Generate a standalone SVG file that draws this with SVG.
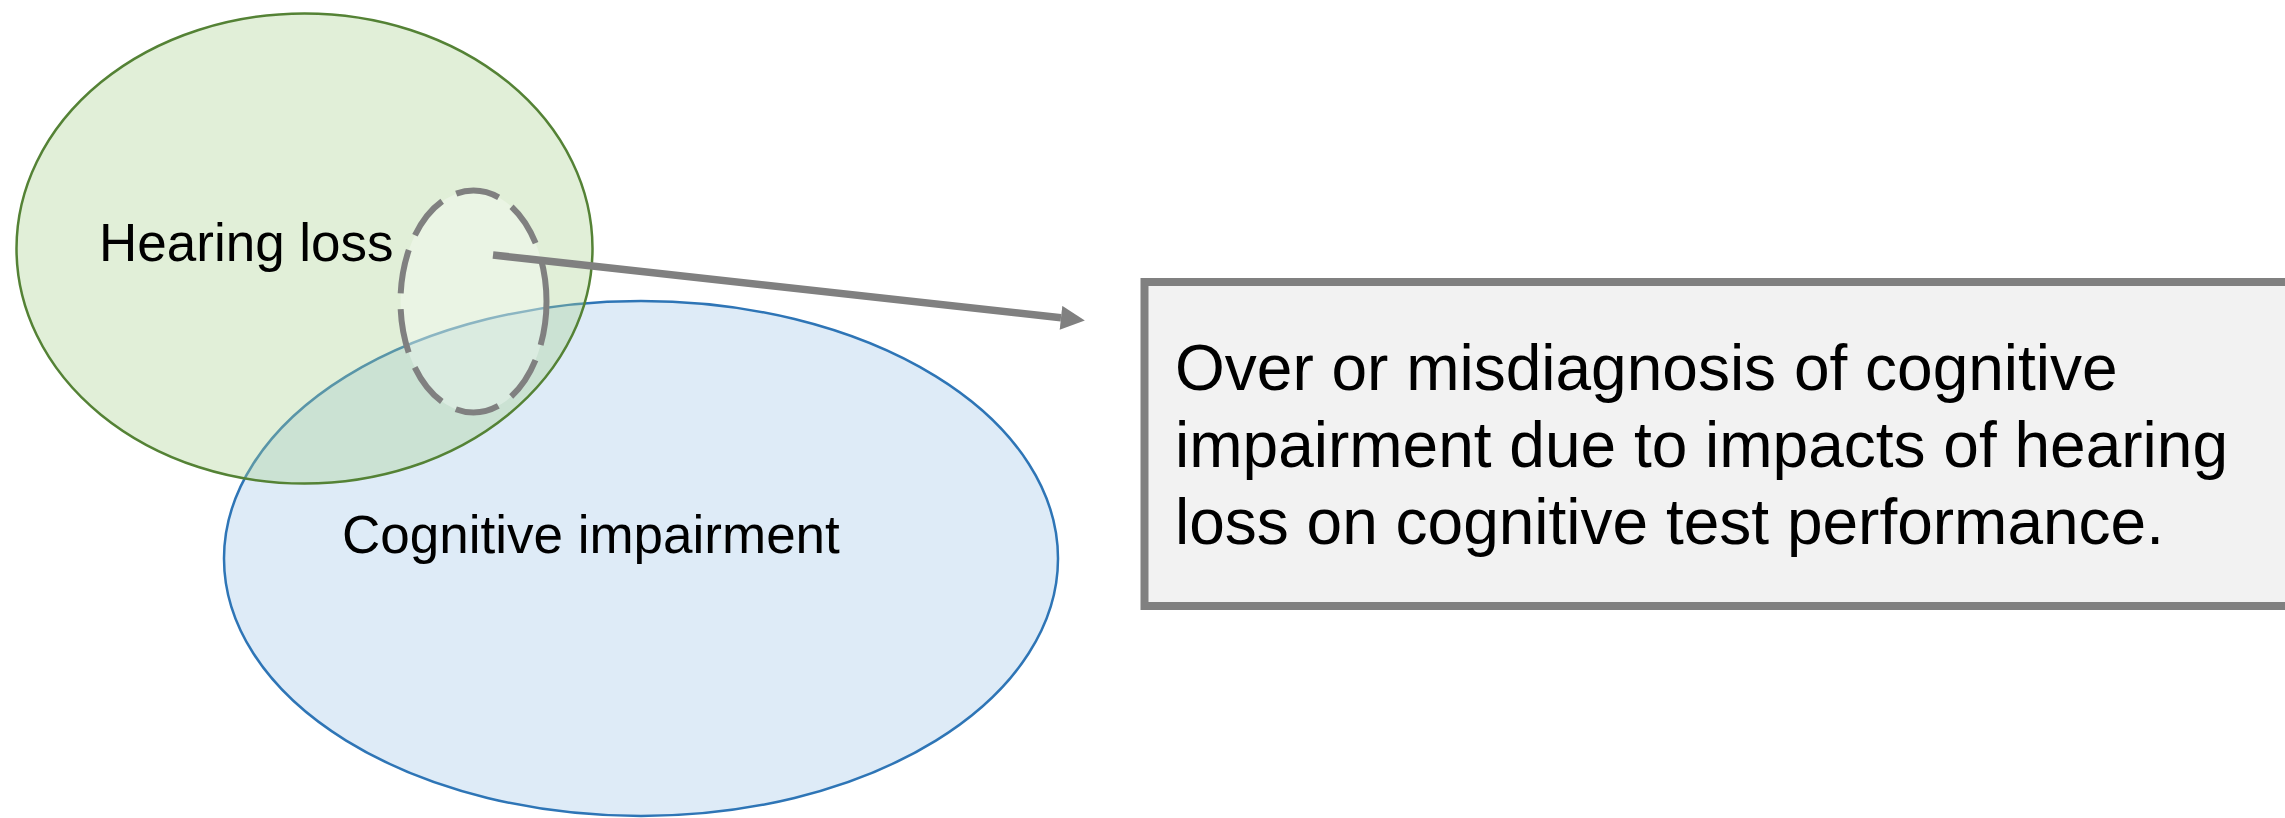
<svg xmlns="http://www.w3.org/2000/svg" width="2285" height="818" viewBox="0 0 2285 818">
  <style>
    .label { font-family: "Liberation Sans", Arial, sans-serif; fill: #000000; }
    .set-blue { fill: #deebf7; stroke: #2e75b6; stroke-width: 2.5; }
    .set-green { fill: #a9d18e; fill-opacity: 0.35; stroke: #548235; stroke-width: 2.5; }
    .focus { fill: #ffffff; fill-opacity: 0.3; stroke: #808080; stroke-width: 6; stroke-dasharray: 44 16; }
    .callout { fill: #f2f2f2; stroke: #808080; stroke-width: 8; }
    .connector { stroke: #808080; stroke-width: 7.5; fill: none; }
  </style>
  <defs>
    <marker id="arrowhead" viewBox="0 0 10 10" refX="0" refY="5" markerWidth="3.3" markerHeight="3.2" markerUnits="strokeWidth" orient="auto">
      <path d="M0,0 L10,5 L0,10 z" fill="#808080"/>
    </marker>
  </defs>

  <!-- Cognitive impairment set -->
  <g id="cognitive-impairment">
    <ellipse class="set-blue" cx="641" cy="558.5" rx="417" ry="257.5"/>
    <text class="label" x="342" y="553" font-size="53">Cognitive impairment</text>
  </g>

  <!-- Hearing loss set (translucent, drawn over the blue set) -->
  <g id="hearing-loss">
    <ellipse class="set-green" cx="304.5" cy="248.5" rx="288" ry="235"/>
    <text class="label" x="99" y="261" font-size="53">Hearing loss</text>
  </g>

  <!-- Highlighted overlap region -->
  <g id="overlap-focus">
    <ellipse class="focus" cx="473.5" cy="301.5" rx="73" ry="111"/>
  </g>

  <!-- Explanation box -->
  <g id="explanation">
    <rect class="callout" x="1144.5" y="282" width="1200" height="324"/>
    <text class="label" font-size="64">
      <tspan x="1175" y="390">Over or misdiagnosis of cognitive</tspan>
      <tspan x="1175" y="467">impairment due to impacts of hearing</tspan>
      <tspan x="1175" y="544">loss on cognitive test performance.</tspan>
    </text>
  </g>

  <!-- Connectors -->
  <g id="connectors">
    <line class="connector" x1="493" y1="255" x2="1061" y2="317.8" marker-end="url(#arrowhead)"/>
  </g>
</svg>
